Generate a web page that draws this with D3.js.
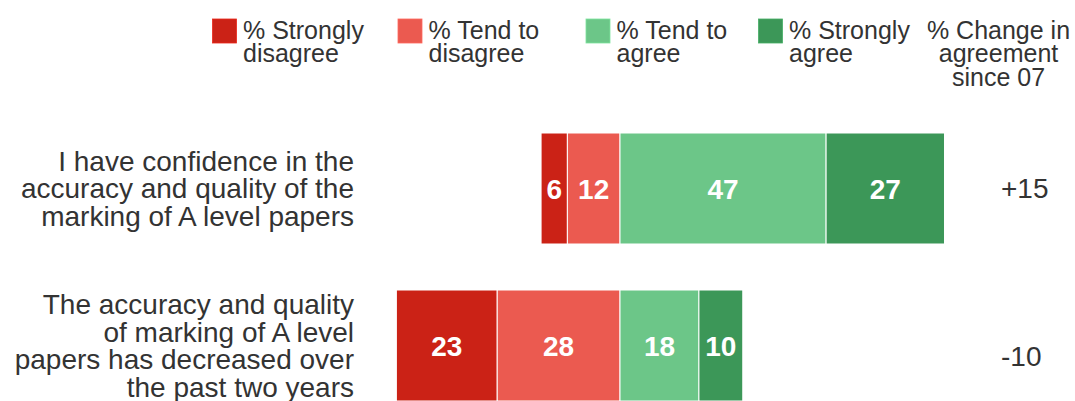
<!DOCTYPE html>
<html>
<head>
<meta charset="utf-8">
<script src="https://cdn.jsdelivr.net/npm/d3@7"></script>
<style>
  html, body { margin: 0; padding: 0; background: #fff; }
  svg { display: block; font-family: "Liberation Sans", Arial, sans-serif; }
</style>
</head>
<body>
<div id="chart"></div>
<script>
// Survey statements (label lines) and responses in percent
const statements = [
  ["I have confidence in the", "accuracy and quality of the", "marking of A level papers"],
  ["The accuracy and quality", "of marking of A level", "papers has decreased over", "the past two years"]
];
const stronglyDisagree = [6, 23];
const tendDisagree = [12, 28];
const tendAgree = [47, 18];
const stronglyAgree = [27, 10];
const changeSince07 = ["+15", "-10"];

const seriesNames = [
  ["% Strongly", "disagree"],
  ["% Tend to", "disagree"],
  ["% Tend to", "agree"],
  ["% Strongly", "agree"]
];
const seriesColors = ["#cb2216", "#eb5a50", "#6cc688", "#3c9758"];
const changeHeader = ["% Change in", "agreement", "since 07"];

const W = 1075, H = 401;
const svg = d3.select("#chart").append("svg")
  .attr("width", W).attr("height", H);

const textColor = "#333333";

// Diverging scale: 0 sits between disagreement and agreement
const x = d3.scaleLinear().domain([-60, 80]).range([620 - 60 * 4.385, 620 + 80 * 4.385]);
const rowIds = statements.map((d, i) => i);
const y = d3.scaleBand().domain(rowIds).range([133, 401]).paddingInner(0.293).paddingOuter(0);

// Build stacked segments for each row
const segs = [];
rowIds.forEach(i => {
  const vals = [stronglyDisagree[i], tendDisagree[i], tendAgree[i], stronglyAgree[i]];
  // disagreement stacks leftwards from zero
  let left0 = -(vals[0] + vals[1]);
  segs.push({ row: i, k: 0, x0: left0, x1: left0 + vals[0], v: vals[0] });
  segs.push({ row: i, k: 1, x0: left0 + vals[0], x1: 0, v: vals[1] });
  segs.push({ row: i, k: 2, x0: 0, x1: vals[2], v: vals[2] });
  segs.push({ row: i, k: 3, x0: vals[2], x1: vals[2] + vals[3], v: vals[3] });
});

const g = svg.append("g");
g.selectAll("rect.seg").data(segs).join("rect")
  .attr("class", "seg")
  .attr("x", d => x(d.x0))
  .attr("width", d => x(d.x1) - x(d.x0))
  .attr("y", d => y(d.row))
  .attr("height", y.bandwidth())
  .attr("fill", d => seriesColors[d.k])
  .attr("stroke", "#ffffff")
  .attr("stroke-width", 1);

g.selectAll("text.val").data(segs).join("text")
  .attr("class", "val")
  .attr("x", d => (x(d.x0) + x(d.x1)) / 2)
  .attr("y", d => y(d.row) + y.bandwidth() / 2)
  .attr("dy", "0.36em")
  .attr("text-anchor", "middle")
  .attr("fill", "#ffffff")
  .attr("font-weight", "bold")
  .attr("font-size", 28)
  .text(d => d.v);

// Statement labels, right aligned
const lineH = 27.5;
rowIds.forEach(i => {
  const lines = statements[i];
  const cy = y(i) + y.bandwidth() / 2;
  const firstBase = cy + 10 - (lines.length - 1) / 2 * lineH;
  const t = svg.append("text")
    .attr("text-anchor", "end")
    .attr("fill", textColor)
    .attr("font-size", 28);
  lines.forEach((ln, j) => {
    t.append("tspan").attr("x", 354).attr("y", firstBase + j * lineH).text(ln);
  });
});

// Change column
const changeY = [197.5, 366];
rowIds.forEach(i => {
  svg.append("text")
    .attr("x", 1001)
    .attr("y", changeY[i])
    .attr("fill", textColor)
    .attr("font-size", 28)
    .text(changeSince07[i]);
});

// Legend
const keyX = [212.5, 398, 586, 758.5];
const leg = svg.append("g");
seriesNames.forEach((nm, k) => {
  leg.append("rect")
    .attr("x", keyX[k]).attr("y", 19)
    .attr("width", 24).attr("height", 24)
    .attr("fill", seriesColors[k])
    .attr("stroke", d3.color(seriesColors[k]).brighter(0.4))
    .attr("stroke-width", 0.8);
  const t = leg.append("text")
    .attr("fill", textColor)
    .attr("font-size", 25);
  nm.forEach((ln, j) => {
    t.append("tspan").attr("x", keyX[k] + 30.5).attr("y", 38.5 + j * 23.5).text(ln);
  });
});

const hdr = svg.append("text")
  .attr("text-anchor", "middle")
  .attr("fill", textColor)
  .attr("font-size", 25);
changeHeader.forEach((ln, j) => {
  hdr.append("tspan").attr("x", 998.5).attr("y", 38.5 + j * 23.8).text(ln);
});
</script>
</body>
</html>
